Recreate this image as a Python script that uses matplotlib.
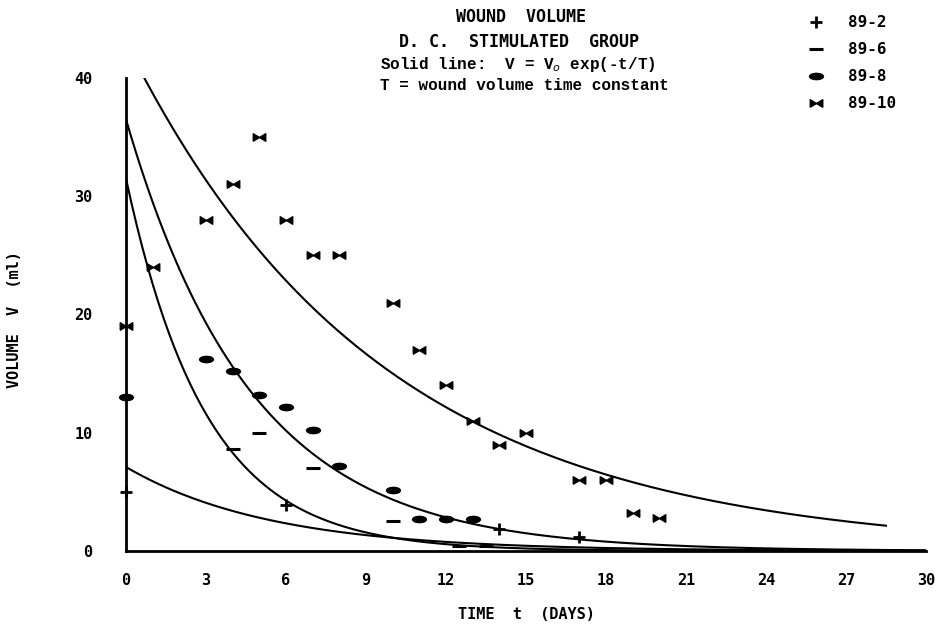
import numpy as np
import matplotlib
matplotlib.use("Agg")
import matplotlib.pyplot as plt
from matplotlib.path import Path

# measured points (days, ml)
t_89_2 = [0, 6, 14, 17]
v_89_2 = [5.0, 3.9, 1.9, 1.2]

t_89_6 = [4, 5, 7, 10, 12.5, 13.5]
v_89_6 = [8.6, 10.0, 7.0, 2.5, 0.4, 0.4]

t_89_8 = [0, 3, 4, 5, 6, 7, 8, 10, 11, 12, 13]
v_89_8 = [13.0, 16.2, 15.2, 13.2, 12.2, 10.2, 7.2, 5.2, 2.7, 2.7, 2.7]

t_89_10 = [0, 1, 3, 4, 5, 6, 7, 8, 10, 11, 12, 13, 14, 15, 17, 18, 19, 20]
v_89_10 = [19, 24, 28, 31, 35, 28, 25, 25, 21, 17, 14, 11, 9, 10, 6, 6, 3.2, 2.8]

# fitted curves V = V0 exp(-t/T)
curve_v0 = [7.1, 31.5, 36.5, 43.0]
curve_T = [5.4, 3.0, 4.7, 9.5]
curve_tend = [30, 30, 30, 28.5]

series_labels = ["89-2", "89-6", "89-8", "89-10"]
x_ticks = [0, 3, 6, 9, 12, 15, 18, 21, 24, 27, 30]
y_ticks = [0, 10, 20, 30, 40]

# custom marker shapes
bowtie = Path([(-1, -0.6), (-1, 0.6), (0, 0), (1, 0.6), (1, -0.6), (0, 0), (-1, -0.6)])
circ = Path.unit_circle()
oval = Path(circ.vertices * np.array([1.0, 0.45]), circ.codes)

fig = plt.figure(figsize=(9.43, 6.26), dpi=100)
ax = fig.add_axes([126 / 943, 75 / 626, 800 / 943, 473 / 626])

for v0, T, te in zip(curve_v0, curve_T, curve_tend):
    tt = np.linspace(0, te, 300)
    ax.plot(tt, v0 * np.exp(-tt / T), color="black", lw=1.5)

h1, = ax.plot(t_89_2, v_89_2, ls="none", marker="+", ms=9, mew=2, color="black", clip_on=False)
h2, = ax.plot(t_89_6, v_89_6, ls="none", marker="_", ms=10, mew=2.2, color="black", clip_on=False)
h3, = ax.plot(t_89_8, v_89_8, ls="none", marker=oval, ms=10, color="black", clip_on=False)
h4, = ax.plot(t_89_10, v_89_10, ls="none", marker=bowtie, ms=9, color="black", clip_on=False)

ax.set_xlim(0, 30)
ax.set_ylim(0, 40)
ax.set_xticks(x_ticks)
ax.set_yticks(y_ticks)
for s in ["top", "right"]:
    ax.spines[s].set_visible(False)
for s in ["left", "bottom"]:
    ax.spines[s].set_linewidth(2)
ax.tick_params(length=0, labelsize=11, pad=16)
for lab in ax.get_xticklabels() + ax.get_yticklabels():
    lab.set_fontweight("bold")
    lab.set_family("DejaVu Sans Mono")
ax.tick_params(axis="y", pad=24)

ax.set_xlabel("TIME  t  (DAYS)", fontsize=11, fontweight="bold", family="DejaVu Sans Mono")
ax.xaxis.set_label_coords(0.5, -0.118)
ax.set_ylabel("VOLUME  V  (ml)", fontsize=11, fontweight="bold", family="DejaVu Sans Mono")
ax.yaxis.set_label_coords(-0.13, 0.49)

fig.text(521 / 943, 1 - 17 / 626, "WOUND  VOLUME", ha="center", va="center",
         fontsize=12, fontweight="bold", family="DejaVu Sans Mono")
fig.text(519 / 943, 1 - 42 / 626, "D. C.  STIMULATED  GROUP", ha="center", va="center",
         fontsize=12, fontweight="bold", family="DejaVu Sans Mono")
fig.text(380 / 943, 1 - 64 / 626, r"Solid line:  V = V$_o$ exp(-t/T)", ha="left", va="center",
         fontsize=11.5, fontweight="bold", family="Liberation Mono")
fig.text(380 / 943, 1 - 86 / 626, "T = wound volume time constant", ha="left", va="center",
         fontsize=11.5, fontweight="bold", family="Liberation Mono")

leg = fig.legend([h1, h2, h3, h4], series_labels, loc="upper left",
                 bbox_to_anchor=(792 / 943, 1 - 1 / 626), frameon=False,
                 handlelength=1.2, handletextpad=1.4, labelspacing=0.75,
                 prop={"family": "DejaVu Sans Mono", "weight": "bold", "size": 11.5})

fig.savefig("out.png", dpi=100)
